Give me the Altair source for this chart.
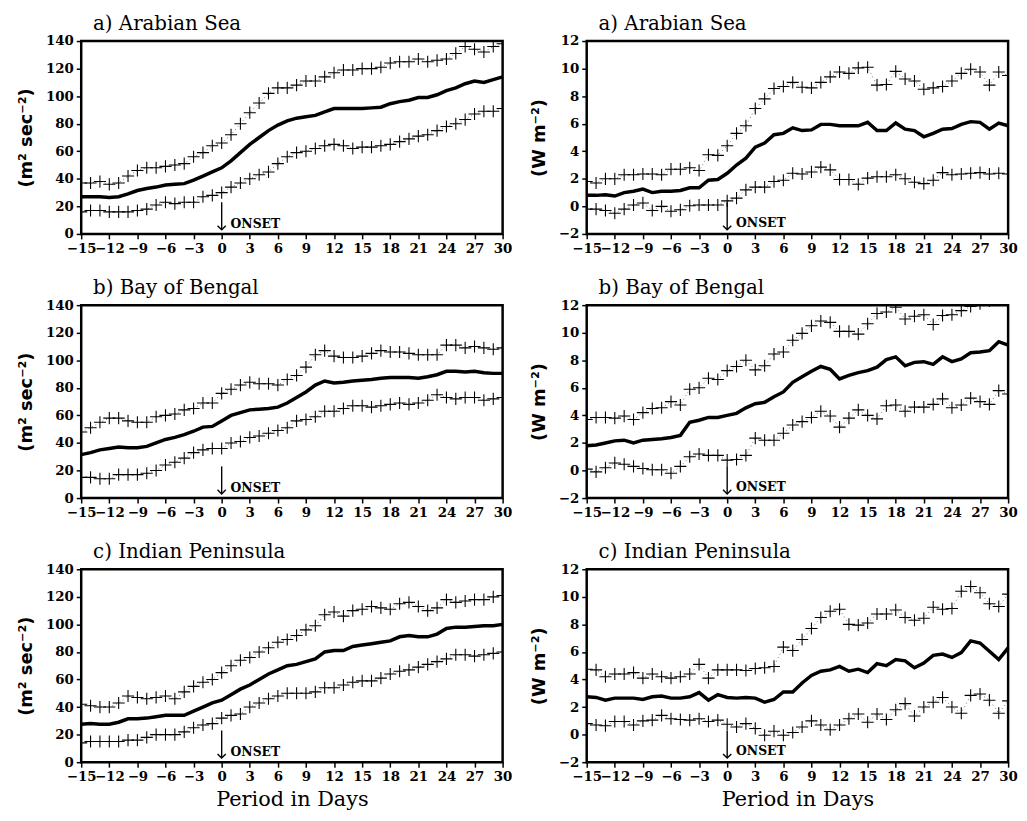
import pandas as pd
import altair as alt

days = list(range(-15, 31))

# a) Arabian Sea - kinetic energy (m2 sec-2)
as_ke_mean = [27, 27, 27, 26.5, 27, 29, 31.5, 33, 34, 35.5, 36, 36.5, 39, 42, 45, 48,
              53, 59, 65, 70, 75, 79, 82, 84, 85, 86, 88.5, 91, 91, 91, 91, 91.5,
              92, 94.5, 96, 97, 99, 99, 101, 104, 106, 109, 111, 110, 112, 114]
as_ke_upper = [37, 37, 38, 36, 37, 42, 46, 48, 48, 49, 50, 51, 56, 59, 64, 66,
               72, 80, 88, 95, 102, 106, 106, 108, 111, 111, 114, 117, 119, 119, 120, 120,
               121, 124, 125, 125, 127, 125, 126, 127, 131, 136, 134, 132, 136, 138]
as_ke_lower = [16, 17, 17, 16, 16, 16, 17, 18, 21, 23, 22, 23, 23, 27, 28, 30,
               34, 37, 40, 43, 45, 51, 56, 59, 60, 62, 64, 65, 64, 62, 63, 63,
               64, 65, 67, 69, 71, 72, 75, 78, 80, 83, 87, 89, 89, 91]

# a) Arabian Sea - flux (W m-2)
as_w_mean = [0.8, 0.8, 0.85, 0.75, 1.0, 1.1, 1.25, 1.0, 1.1, 1.1, 1.15, 1.35, 1.35, 1.9, 1.95, 2.4,
             3.0, 3.5, 4.3, 4.6, 5.2, 5.3, 5.7, 5.5, 5.55, 5.95, 5.95, 5.85, 5.85, 5.85, 6.1, 5.5,
             5.5, 6.05, 5.6, 5.5, 5.05, 5.3, 5.6, 5.65, 5.95, 6.15, 6.1, 5.6, 6.05, 5.85]
as_w_upper = [1.8, 1.7, 2.0, 2.0, 2.3, 2.3, 2.35, 2.35, 2.3, 2.7, 2.7, 2.8, 2.6, 3.75, 3.7, 4.4,
              5.3, 5.85, 7.1, 7.8, 8.55, 8.7, 9.0, 8.65, 8.6, 9.0, 9.4, 9.75, 9.65, 10.05, 10.1, 8.8,
              8.85, 9.8, 9.25, 9.1, 8.5, 8.6, 8.7, 9.1, 9.65, 9.95, 9.75, 8.8, 9.75, 9.5]
as_w_lower = [-0.2, -0.2, -0.3, -0.5, -0.2, 0.1, 0.25, -0.3, 0.0, -0.35, -0.25, 0.05, 0.1, 0.1, 0.1, 0.4,
              0.6, 1.2, 1.4, 1.4, 1.8, 1.9, 2.4, 2.35, 2.5, 2.85, 2.65, 1.95, 1.95, 1.6, 2.05, 2.15,
              2.15, 2.3, 2.0, 1.75, 1.65, 1.9, 2.45, 2.3, 2.35, 2.4, 2.45, 2.35, 2.4, 2.35]

# b) Bay of Bengal
bb_ke_mean = [31.5, 33, 35, 36, 37, 36.5, 36.5, 37.5, 40, 42.5, 44, 46, 48.5, 51.5, 52, 56,
              60, 62, 64, 64.5, 65, 66, 69, 73, 77, 82, 85, 83.5, 84, 85, 85.5, 86,
              87, 87.5, 87.5, 87.5, 87, 88, 89.5, 92, 92, 91.5, 92, 91, 90.5, 90.5]
bb_ke_upper = [48, 51, 55, 58, 58, 56, 55, 55, 59, 60, 61, 64, 65, 69, 69, 76,
               79, 82, 84, 83, 83, 82, 86, 89, 95, 104, 107, 103, 102, 102, 103, 105,
               107, 106, 106, 105, 104, 104, 104, 111, 111, 109, 110, 109, 108, 109]
bb_ke_lower = [15, 15, 14, 14, 17, 17, 17, 18, 20, 24, 26, 29, 33, 35, 36, 36,
               40, 41, 44, 45, 47, 49, 51, 56, 57, 59, 63, 63, 65, 67, 67, 66,
               67, 68, 69, 68, 69, 71, 75, 73, 72, 73, 73, 71, 72, 73]

bb_w_mean = [1.8, 1.85, 2.0, 2.15, 2.2, 2.0, 2.2, 2.25, 2.3, 2.4, 2.55, 3.5, 3.65, 3.85, 3.85, 4.0,
             4.15, 4.55, 4.85, 4.95, 5.35, 5.7, 6.4, 6.8, 7.2, 7.55, 7.35, 6.65, 6.9, 7.1, 7.25, 7.5,
             8.05, 8.25, 7.6, 7.85, 7.9, 7.7, 8.25, 7.9, 8.1, 8.55, 8.6, 8.7, 9.35, 9.1]
bb_w_upper = [3.7, 3.85, 3.85, 3.8, 3.95, 3.7, 4.2, 4.5, 4.55, 5.0, 4.75, 5.9, 6.0, 6.7, 6.6, 7.25,
              7.55, 8.0, 7.3, 7.6, 8.45, 8.6, 9.45, 9.95, 10.5, 10.85, 10.75, 10.1, 10.1, 9.9, 10.65, 11.4,
              11.5, 11.85, 11.0, 11.2, 11.3, 10.6, 11.25, 11.3, 11.6, 11.9, 12.1, 12.3, 12.5, 12.6]
bb_w_lower = [0.1, -0.1, 0.2, 0.55, 0.45, 0.3, 0.15, 0.05, 0.05, -0.2, 0.3, 1.0, 1.2, 1.1, 1.1, 0.75,
              0.8, 1.1, 2.35, 2.2, 2.2, 2.7, 3.3, 3.55, 3.85, 4.3, 3.95, 3.15, 3.8, 4.4, 4.0, 3.75,
              4.7, 4.75, 4.3, 4.6, 4.6, 4.8, 5.2, 4.55, 4.75, 5.25, 5.0, 4.8, 5.8, 5.55]

# c) Indian Peninsula
ip_ke_mean = [27.5, 28, 27.5, 27.5, 29, 31.5, 31.5, 32, 33, 34, 34, 34, 37, 40, 43, 45,
              49, 53, 56, 60, 64, 67, 70, 71, 73, 75, 80, 81, 81, 84, 85, 86,
              87, 88, 91, 92, 91, 91, 93, 97, 98, 98, 98.5, 99, 99, 100]
ip_ke_upper = [42, 41, 40, 40, 43, 48, 47, 46, 47, 48, 46, 51, 55, 58, 60, 65,
               70, 74, 76, 80, 83, 87, 89, 92, 96, 99, 107, 109, 106, 110, 111, 113,
               112, 111, 115, 116, 113, 110, 112, 118, 116, 117, 118, 118, 120, 121]
ip_ke_lower = [14, 15, 15, 15, 15, 16, 16, 18, 20, 20, 20, 22, 25, 27, 28, 32,
               34, 35, 40, 43, 46, 48, 50, 50, 50, 51, 54, 54, 56, 58, 59, 59,
               61, 64, 66, 67, 69, 71, 73, 75, 78, 78, 77, 78, 79, 80]

ip_w_mean = [2.75, 2.7, 2.5, 2.65, 2.65, 2.65, 2.55, 2.75, 2.8, 2.65, 2.65, 2.75, 3.05, 2.5, 2.9, 2.7,
             2.65, 2.7, 2.65, 2.35, 2.55, 3.1, 3.1, 3.75, 4.3, 4.6, 4.7, 4.95, 4.6, 4.75, 4.5, 5.15,
             5.0, 5.45, 5.35, 4.85, 5.2, 5.75, 5.85, 5.6, 5.95, 6.8, 6.65, 6.05, 5.45, 6.3]
ip_w_upper = [4.75, 4.7, 4.2, 4.4, 4.4, 4.5, 4.1, 4.4, 4.2, 4.1, 4.2, 4.4, 5.1, 4.1, 4.7, 4.7,
              4.7, 4.65, 4.8, 4.85, 4.95, 6.35, 6.1, 6.9, 7.7, 8.5, 8.95, 9.1, 8.0, 7.95, 8.1, 8.75,
              8.75, 9.05, 8.5, 8.3, 8.45, 9.25, 9.1, 9.15, 10.4, 10.75, 10.3, 9.5, 9.3, 10.2]
ip_w_lower = [0.8, 0.7, 0.65, 0.95, 0.95, 0.7, 1.0, 1.05, 1.4, 1.15, 1.1, 1.05, 1.15, 0.95, 1.05, 0.75,
              0.55, 0.8, 0.45, -0.05, 0.25, -0.05, 0.15, 0.55, 1.0, 0.7, 0.35, 0.7, 1.15, 1.5, 0.9, 1.5,
              1.1, 1.8, 2.25, 1.35, 2.0, 2.35, 2.7, 2.0, 1.55, 2.85, 2.95, 2.5, 1.55, 2.45]

KE_TITLE = "(m\u00b2 sec\u207b\u00b2)"
W_TITLE = "(W m\u207b\u00b2)"
PLUS = "M-1,0L1,0M0,-1L0,1"
ARROW_HEAD = "M-1,-1L0,0L1,-1"


def panel(title, mean, upper, lower, ydomain, ystep, ytitle, arrow, bottom=False):
    df = pd.DataFrame({"day": days, "mean": mean, "upper": upper, "lower": lower})
    band = df.melt("day", ["upper", "lower"], var_name="band", value_name="value")

    x_axis = alt.Axis(values=list(range(-15, 31, 3)), labelFlush=False, labelOverlap=False,
                      title="Period in Days" if bottom else None)
    x = alt.X("day:Q", scale=alt.Scale(domain=[-15, 30], nice=False, zero=False), axis=x_axis)
    y_scale = alt.Scale(domain=ydomain, nice=False, zero=False)
    y_axis = alt.Axis(values=list(range(ydomain[0], ydomain[1] + 1, ystep)), labelOverlap=False,
                      labelFlush=False, title=ytitle)

    def y(field):
        return alt.Y(field, scale=y_scale, axis=y_axis)

    dots = alt.Chart(band).mark_line(color="#555", strokeWidth=0.8, strokeDash=[1, 3], clip=True).encode(
        x=x, y=y("value:Q"), detail="band:N"
    )
    plus = alt.Chart(band).mark_point(shape=PLUS, size=150, filled=False, color="black",
                                      strokeWidth=1.1, opacity=1, clip=True).encode(
        x=x, y=y("value:Q")
    )
    line = alt.Chart(df).mark_line(color="black", strokeWidth=3.5).encode(
        x=x, y=y("mean:Q")
    )

    top, bot, txt = arrow
    arr = pd.DataFrame({"day": [0], "top": [top], "bot": [bot], "txt": [txt], "label": ["ONSET"]})
    shaft = alt.Chart(arr).mark_rule(color="black", strokeWidth=1.4).encode(
        x=x, y=y("top:Q"), y2="bot:Q"
    )
    head = alt.Chart(arr).mark_point(shape=ARROW_HEAD, size=70, filled=False, color="black",
                                     strokeWidth=1.4, opacity=1).encode(
        x=x, y=y("bot:Q")
    )
    label = alt.Chart(arr).mark_text(align="left", baseline="middle", dx=9, font="DejaVu Serif",
                                     fontWeight="bold", fontSize=12.5, color="black").encode(
        x=x, y=y("txt:Q"), text="label:N"
    )

    return alt.layer(dots, plus, line, shaft, head, label).properties(
        width=426, height=195,
        title=alt.TitleParams(title, anchor="start", frame="group", dx=12, offset=0,
                              font="DejaVu Serif", fontSize=20, fontWeight="normal", color="black")
    )


ke_arrow = (23, 3, 7)
w_arrow = (0.3, -1.7, -1.2)

row_a = alt.hconcat(
    panel("a) Arabian Sea", as_ke_mean, as_ke_upper, as_ke_lower, [0, 140], 20, KE_TITLE, ke_arrow),
    panel("a) Arabian Sea", as_w_mean, as_w_upper, as_w_lower, [-2, 12], 2, W_TITLE, w_arrow),
    spacing=16,
)
row_b = alt.hconcat(
    panel("b) Bay of Bengal", bb_ke_mean, bb_ke_upper, bb_ke_lower, [0, 140], 20, KE_TITLE, ke_arrow),
    panel("b) Bay of Bengal", bb_w_mean, bb_w_upper, bb_w_lower, [-2, 12], 2, W_TITLE, w_arrow),
    spacing=16,
)
row_c = alt.hconcat(
    panel("c) Indian Peninsula", ip_ke_mean, ip_ke_upper, ip_ke_lower, [0, 140], 20, KE_TITLE, ke_arrow, True),
    panel("c) Indian Peninsula", ip_w_mean, ip_w_upper, ip_w_lower, [-2, 12], 2, W_TITLE, w_arrow, True),
    spacing=16,
)

chart = alt.vconcat(row_a, row_b, row_c, spacing=20).properties(
    padding={"left": 8, "top": 0, "right": 0, "bottom": 0}
).configure_view(
    stroke="black", strokeWidth=2.5
).configure_axis(
    domain=False, grid=False, ticks=True, tickColor="black", tickSize=5, tickWidth=1.5,
    labelFont="DejaVu Serif", labelFontWeight="bold", labelFontSize=13.5, labelColor="black",
    labelPadding=3, titleColor="black"
).configure_axisY(
    titleFont="DejaVu Sans", titleFontWeight="bold", titleFontSize=18, titlePadding=10
).configure_axisX(
    titleFont="DejaVu Serif", titleFontWeight="normal", titleFontSize=21, titlePadding=5
)

chart.save("out.html", embed_options={"renderer": "svg", "actions": False})
